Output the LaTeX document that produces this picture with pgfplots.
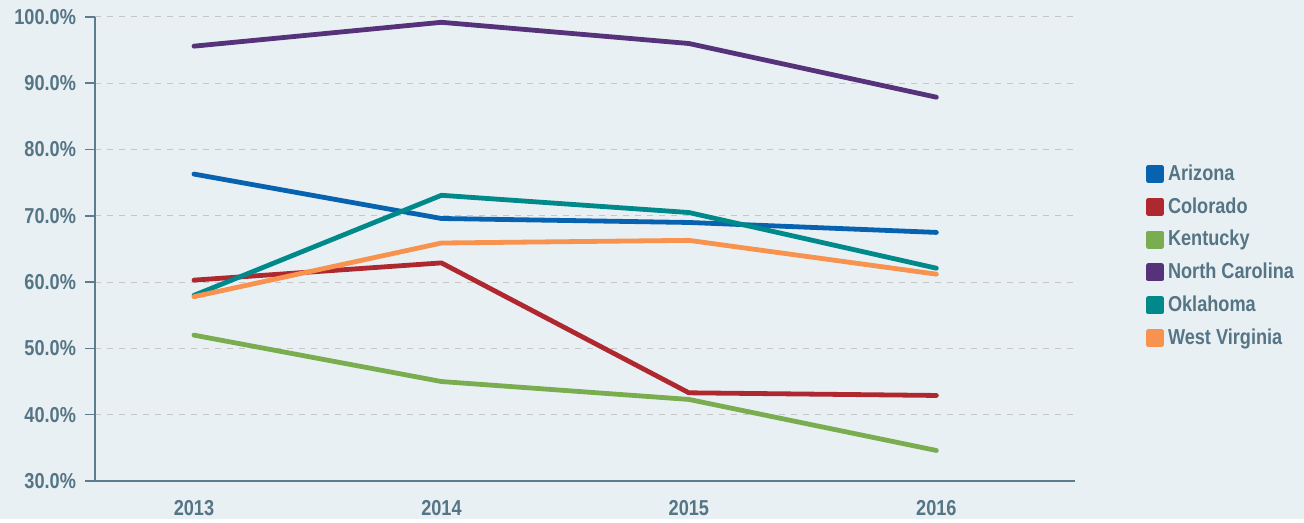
\documentclass[border=0pt]{standalone}
\usepackage{pgfplots}
\pgfplotsset{compat=1.18}
\usepackage{fontspec}
\setmainfont{Liberation Sans}[FakeStretch=0.84]
\definecolor{bg}{HTML}{E9F0F4}
\definecolor{txt}{HTML}{557585}
\definecolor{axc}{HTML}{5E7D8C}
\definecolor{cAZ}{HTML}{0762B0}
\definecolor{cCO}{HTML}{B0282F}
\definecolor{cKY}{HTML}{7AAD4F}
\definecolor{cNC}{HTML}{553279}
\definecolor{cOK}{HTML}{00898A}
\definecolor{cWV}{HTML}{F8924F}
\begin{document}
\begin{tikzpicture}
\fill[bg] (0,0) rectangle (652pt,259.5pt);
\begin{axis}[
  at={(47.5pt,19pt)}, anchor=south west,
  scale only axis, width=490pt, height=232pt,
  xmin=2012.6, xmax=2016.56, ymin=30, ymax=100,
  axis x line=bottom, axis y line=left,
  axis line style={axc, line width=0.8pt, -},
  xtick={2013,2014,2015,2016},
  xticklabels={2013,2014,2015,2016},
  x tick style={draw=none},
  ytick={30,40,...,100},
  y tick style={axc, line width=0.8pt},
  tick align=outside, major tick length=5pt,
  yticklabel={\pgfmathprintnumber[fixed,fixed zerofill,precision=1]{\tick}\%},
  /pgf/number format/assume math mode=true,
  ticklabel style={font=\bfseries\fontsize{10.8}{12}\selectfont, text=txt},
  yticklabel style={xshift=-1pt},
  xticklabel style={yshift=-1pt},
  ymajorgrids, major grid style={gray!45, dashed, line width=0.5pt},
  legend style={at={(1.066,0.70)}, anchor=north west, draw=none, fill=none,
    font=\bfseries\fontsize{10.8}{12}\selectfont, text=txt, row sep=3.1pt,
    /tikz/every even column/.append style={column sep=2pt}},
  legend cell align=left,
  legend image code/.code={\fill[#1] (0.5pt,-3.3pt) rectangle (7.1pt,3.3pt);},
  every axis plot/.append style={line width=2.4pt, line cap=round, line join=round},
  clip=false,
]
\addplot[cAZ] coordinates {(2013,76.3) (2014,69.6) (2015,69.0) (2016,67.5)};
\addlegendentry{Arizona}
\addplot[cCO] coordinates {(2013,60.3) (2014,62.9) (2015,43.3) (2016,42.9)};
\addlegendentry{Colorado}
\addplot[cKY] coordinates {(2013,52.0) (2014,45.0) (2015,42.3) (2016,34.6)};
\addlegendentry{Kentucky}
\addplot[cNC] coordinates {(2013,95.6) (2014,99.2) (2015,96.0) (2016,87.9)};
\addlegendentry{North Carolina}
\addplot[cOK] coordinates {(2013,58.0) (2014,73.1) (2015,70.5) (2016,62.1)};
\addlegendentry{Oklahoma}
\addplot[cWV] coordinates {(2013,57.8) (2014,65.9) (2015,66.3) (2016,61.2)};
\addlegendentry{West Virginia}
\end{axis}
\end{tikzpicture}
\end{document}
